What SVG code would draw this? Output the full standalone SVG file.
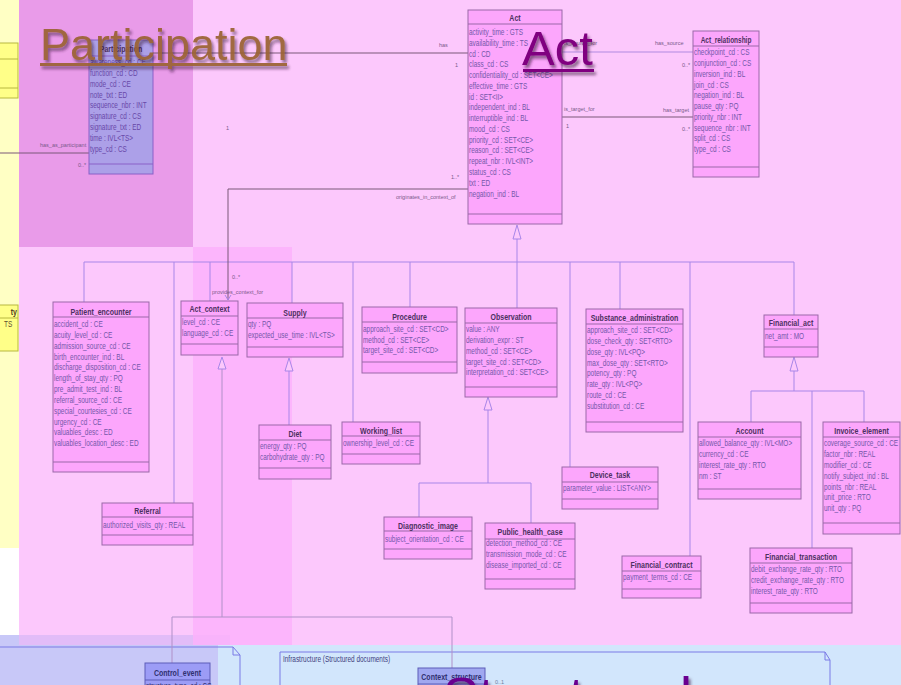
<svg xmlns="http://www.w3.org/2000/svg" width="901" height="685" viewBox="0 0 901 685">
<defs>
<style>
.box{fill:#fca6fc;stroke:#9a68a8;stroke-width:1}
.sep{stroke:#9a68a8;stroke-width:1}
.hd{font-family:"Liberation Sans",Arial,sans-serif;font-size:9px;font-weight:bold;fill:#4c3060;text-anchor:middle}
.at{font-family:"Liberation Sans",Arial,sans-serif;font-size:8.5px;fill:#7458aa}
.lb{font-family:"Liberation Sans",Arial,sans-serif;font-size:5.5px;fill:#7a5a8a}
.gen{stroke:#a886e8;stroke-width:1;fill:none}
.asc{stroke:#7a5878;stroke-width:1;fill:none}
.tri{fill:#fcc8fc;stroke:#a886e8;stroke-width:1}
.ybox{fill:#ffff88;stroke:#b8b840;stroke-width:1}
.bbox{fill:#9c9cf6;stroke:#5c5cb8;stroke-width:1}
.bhd{font-family:"Liberation Sans",Arial,sans-serif;font-size:9px;font-weight:bold;fill:#303070;text-anchor:middle}
.pkg{fill:none;stroke:#7a7ae6;stroke-width:1}
</style>
<filter id="shadow" x="-10%" y="-20%" width="130%" height="160%">
<feDropShadow dx="2" dy="3" stdDeviation="1.5" flood-color="#301830" flood-opacity="0.6"/>
</filter>
</defs>

<!-- background areas -->
<rect x="0" y="0" width="901" height="685" fill="#ffffff"/>
<rect x="0" y="0" width="19" height="548" fill="#ffffc4"/>
<rect x="19" y="0" width="882" height="645" fill="#fcc8fc"/>
<rect x="19" y="0" width="174" height="247" fill="#e99be9"/>
<rect x="0" y="635" width="230" height="50" fill="#c8c8f8"/>
<rect x="19" y="635" width="211" height="10" fill="#e2bcf8"/>
<rect x="218" y="645" width="683" height="40" fill="#d2e6fc"/>
<rect x="193" y="247" width="99" height="398" fill="#fcb2fc" opacity="0.85"/>

<!-- package outlines -->
<path class="pkg" d="M0 647 H233 L240 655 V685 M233 647 V655 H240"/>
<path class="pkg" d="M280 685 V652 H825 L830 660 V685 M825 652 V660 H830"/>
<text class="at" transform="translate(283 662) scale(.76 1)" style="fill:#404080">Infrastructure (Structured documents)</text>

<!-- yellow side classes -->
<g id="side-class-1">
<rect class="ybox" x="-5" y="43" width="23" height="55"/>
<line class="sep" x1="-5" y1="59" x2="18" y2="59" style="stroke:#b8b840"/>
<line class="sep" x1="-5" y1="88" x2="18" y2="88" style="stroke:#b8b840"/>
</g>
<g id="side-class-2">
<rect class="ybox" x="-5" y="305" width="23" height="46"/>
<line class="sep" x1="-5" y1="318" x2="18" y2="318" style="stroke:#b8b840"/>
<text class="hd" transform="translate(17 315) scale(.78 1)" style="text-anchor:end;fill:#504020">ty</text>
<text class="at" transform="translate(4 327) scale(.76 1)" style="fill:#605030">TS</text>
</g>

<!-- connectors -->
<g id="connectors">
<!-- generalization tree under Act -->
<polyline class="gen" points="517,239 517,308"/>
<polyline class="gen" points="84,262 794,262"/>
<line class="gen" x1="84" y1="262" x2="84" y2="302"/>
<line class="gen" x1="174" y1="262" x2="174" y2="503"/>
<line class="gen" x1="210" y1="262" x2="210" y2="301"/>
<line class="gen" x1="292" y1="262" x2="292" y2="303"/>
<line class="gen" x1="353" y1="262" x2="353" y2="422"/>
<line class="gen" x1="410" y1="262" x2="410" y2="307"/>
<line class="gen" x1="570" y1="262" x2="570" y2="467"/>
<line class="gen" x1="620" y1="262" x2="620" y2="309"/>
<line class="gen" x1="690" y1="262" x2="690" y2="556"/>
<line class="gen" x1="794" y1="262" x2="794" y2="315"/>
<polygon class="tri" points="517,225 513,239 521,239"/>

<!-- Act_context specializations -->
<polygon class="tri" points="222,357 218,369 226,369"/>
<polyline class="gen" points="222,369 222,617" style="stroke:#b090c8"/>
<polyline class="gen" points="172,663 172,617 452,617 452,668" style="stroke:#b090c8"/>

<!-- Supply specialization -->
<polygon class="tri" points="289,358 285,371 293,371"/>
<line class="gen" x1="289" y1="371" x2="289" y2="425"/>

<!-- Observation specializations -->
<polygon class="tri" points="488,397 484,410 492,410"/>
<polyline class="gen" points="488,410 488,483"/>
<polyline class="gen" points="419,517 419,483 531,483 531,523"/>

<!-- Financial_act specializations -->
<polygon class="tri" points="794,357 790,371 798,371"/>
<polyline class="gen" points="794,371 794,391"/>
<polyline class="gen" points="751,422 751,391 864,391 864,422"/>
<line class="gen" x1="812" y1="391" x2="812" y2="548"/>

<!-- associations -->
<line class="asc" x1="153" y1="53" x2="468" y2="53"/>
<text class="lb" x="439" y="47">has</text>
<text class="lb" x="455" y="67">1</text>
<text class="lb" x="226" y="130">1</text>

<line class="asc" x1="0" y1="153" x2="89" y2="153"/>
<text class="lb" x="40" y="147">has_as_participant</text>
<text class="lb" x="78" y="167">0..*</text>

<line class="asc" x1="562" y1="52" x2="693" y2="52" style="stroke:#b08ae0"/>
<text class="lb" x="564" y="45">is_source_for</text>
<text class="lb" x="655" y="45">has_source</text>
<text class="lb" x="682" y="67">0..*</text>

<line class="asc" x1="562" y1="117" x2="693" y2="117"/>
<text class="lb" x="564" y="111">is_target_for</text>
<text class="lb" x="566" y="128">1</text>
<text class="lb" x="663" y="112">has_target</text>
<text class="lb" x="682" y="131">0..*</text>

<polyline class="asc" points="468,189 228,189 228,300"/>
<polyline class="asc" points="225,295 228,300 231,295" style="stroke:#a886e8"/>
<text class="lb" x="451" y="179">1..*</text>
<text class="lb" x="396" y="199">originates_in_context_of</text>
<text class="lb" x="232" y="279">0..*</text>
<text class="lb" x="212" y="294">provides_context_for</text>

<text class="lb" x="495" y="684" style="fill:#7080a0">0..1</text>
</g>

<!-- classes -->
<g id="participation">
<rect class="box" x="89" y="40" width="64" height="134" style="fill:#aca0e8;stroke:#8a60c8"/>
<line class="sep" x1="89" y1="56" x2="153" y2="56" style="stroke:#8a60c8"/>
<line class="sep" x1="89" y1="164" x2="153" y2="164" style="stroke:#8a60c8"/>
<text class="hd" transform="translate(121 51.5) scale(.78 1)">Participation</text>
<g transform="translate(90 0) scale(.76 1)"><text class="at" y="65" style="fill:#6848a8"><tspan x="0">awareness_cd : CE</tspan><tspan x="0" dy="10.85">function_cd : CD</tspan><tspan x="0" dy="10.85">mode_cd : CE</tspan><tspan x="0" dy="10.85">note_txt : ED</tspan><tspan x="0" dy="10.85">sequence_nbr : INT</tspan><tspan x="0" dy="10.85">signature_cd : CS</tspan><tspan x="0" dy="10.85">signature_txt : ED</tspan><tspan x="0" dy="10.85">time : IVL&lt;TS&gt;</tspan><tspan x="0" dy="10.85">type_cd : CS</tspan></text></g>
</g>

<g id="act">
<rect class="box" x="468" y="10" width="94" height="214"/>
<line class="sep" x1="468" y1="24" x2="562" y2="24"/>
<line class="sep" x1="468" y1="214" x2="562" y2="214"/>
<text class="hd" transform="translate(515 21) scale(.78 1)">Act</text>
<g transform="translate(469 0) scale(.76 1)"><text class="at" y="35"><tspan x="0">activity_time : GTS</tspan><tspan x="0" dy="10.77">availability_time : TS</tspan><tspan x="0" dy="10.77">cd : CD</tspan><tspan x="0" dy="10.77">class_cd : CS</tspan><tspan x="0" dy="10.77">confidentiality_cd : SET&lt;CE&gt;</tspan><tspan x="0" dy="10.77">effective_time : GTS</tspan><tspan x="0" dy="10.77">id : SET&lt;II&gt;</tspan><tspan x="0" dy="10.77">independent_ind : BL</tspan><tspan x="0" dy="10.77">interruptible_ind : BL</tspan><tspan x="0" dy="10.77">mood_cd : CS</tspan><tspan x="0" dy="10.77">priority_cd : SET&lt;CE&gt;</tspan><tspan x="0" dy="10.77">reason_cd : SET&lt;CE&gt;</tspan><tspan x="0" dy="10.77">repeat_nbr : IVL&lt;INT&gt;</tspan><tspan x="0" dy="10.77">status_cd : CS</tspan><tspan x="0" dy="10.77">txt : ED</tspan><tspan x="0" dy="10.77">negation_ind : BL</tspan></text></g>
</g>

<g id="act-relationship">
<rect class="box" x="693" y="31" width="66" height="146"/>
<line class="sep" x1="693" y1="46" x2="759" y2="46"/>
<line class="sep" x1="693" y1="167" x2="759" y2="167"/>
<text class="hd" transform="translate(726 42.5) scale(.72 1)">Act_relationship</text>
<g transform="translate(694 0) scale(.76 1)"><text class="at" y="55.5"><tspan x="0">checkpoint_cd : CS</tspan><tspan x="0" dy="10.75">conjunction_cd : CS</tspan><tspan x="0" dy="10.75">inversion_ind : BL</tspan><tspan x="0" dy="10.75">join_cd : CS</tspan><tspan x="0" dy="10.75">negation_ind : BL</tspan><tspan x="0" dy="10.75">pause_qty : PQ</tspan><tspan x="0" dy="10.75">priority_nbr : INT</tspan><tspan x="0" dy="10.75">sequence_nbr : INT</tspan><tspan x="0" dy="10.75">split_cd : CS</tspan><tspan x="0" dy="10.75">type_cd : CS</tspan></text></g>
</g>

<g id="patient-encounter">
<rect class="box" x="53" y="302" width="96" height="170"/>
<line class="sep" x1="53" y1="317" x2="149" y2="317"/>
<line class="sep" x1="53" y1="462" x2="149" y2="462"/>
<text class="hd" transform="translate(101 314.5) scale(.78 1)">Patient_encounter</text>
<g transform="translate(54 0) scale(.76 1)"><text class="at" y="327"><tspan x="0">accident_cd : CE</tspan><tspan x="0" dy="10.85">acuity_level_cd : CE</tspan><tspan x="0" dy="10.85">admission_source_cd : CE</tspan><tspan x="0" dy="10.85">birth_encounter_ind : BL</tspan><tspan x="0" dy="10.85">discharge_disposition_cd : CE</tspan><tspan x="0" dy="10.85">length_of_stay_qty : PQ</tspan><tspan x="0" dy="10.85">pre_admit_test_ind : BL</tspan><tspan x="0" dy="10.85">referral_source_cd : CE</tspan><tspan x="0" dy="10.85">special_courtesies_cd : CE</tspan><tspan x="0" dy="10.85">urgency_cd : CE</tspan><tspan x="0" dy="10.85">valuables_desc : ED</tspan><tspan x="0" dy="10.85">valuables_location_desc : ED</tspan></text></g>
</g>

<g id="act-context">
<rect class="box" x="181" y="301" width="57" height="54"/>
<line class="sep" x1="181" y1="316" x2="238" y2="316"/>
<line class="sep" x1="181" y1="344" x2="238" y2="344"/>
<text class="hd" transform="translate(209.5 312) scale(.78 1)">Act_context</text>
<g transform="translate(182 0) scale(.76 1)"><text class="at" y="325.5"><tspan x="0">level_cd : CE</tspan><tspan x="0" dy="11">language_cd : CE</tspan></text></g>
</g>

<g id="supply">
<rect class="box" x="247" y="303" width="96" height="54"/>
<line class="sep" x1="247" y1="318" x2="343" y2="318"/>
<line class="sep" x1="247" y1="347" x2="343" y2="347"/>
<text class="hd" transform="translate(295 316) scale(.78 1)">Supply</text>
<g transform="translate(248 0) scale(.76 1)"><text class="at" y="327"><tspan x="0">qty : PQ</tspan><tspan x="0" dy="11">expected_use_time : IVL&lt;TS&gt;</tspan></text></g>
</g>

<g id="procedure">
<rect class="box" x="362" y="307" width="95" height="66"/>
<line class="sep" x1="362" y1="322" x2="457" y2="322"/>
<line class="sep" x1="362" y1="362" x2="457" y2="362"/>
<text class="hd" transform="translate(409.5 319.5) scale(.78 1)">Procedure</text>
<g transform="translate(363 0) scale(.76 1)"><text class="at" y="332"><tspan x="0">approach_site_cd : SET&lt;CD&gt;</tspan><tspan x="0" dy="10.6">method_cd : SET&lt;CE&gt;</tspan><tspan x="0" dy="10.6">target_site_cd : SET&lt;CD&gt;</tspan></text></g>
</g>

<g id="observation">
<rect class="box" x="465" y="308" width="92" height="89"/>
<line class="sep" x1="465" y1="323" x2="557" y2="323"/>
<line class="sep" x1="465" y1="387" x2="557" y2="387"/>
<text class="hd" transform="translate(511 320) scale(.78 1)">Observation</text>
<g transform="translate(466 0) scale(.76 1)"><text class="at" y="332"><tspan x="0">value : ANY</tspan><tspan x="0" dy="10.85">derivation_expr : ST</tspan><tspan x="0" dy="10.85">method_cd : SET&lt;CE&gt;</tspan><tspan x="0" dy="10.85">target_site_cd : SET&lt;CD&gt;</tspan><tspan x="0" dy="10.85">interpretation_cd : SET&lt;CE&gt;</tspan></text></g>
</g>

<g id="substance-administration">
<rect class="box" x="586" y="309" width="97" height="123"/>
<line class="sep" x1="586" y1="324" x2="683" y2="324"/>
<line class="sep" x1="586" y1="422" x2="683" y2="422"/>
<text class="hd" transform="translate(634.5 321) scale(.78 1)">Substance_administration</text>
<g transform="translate(587 0) scale(.76 1)"><text class="at" y="333"><tspan x="0">approach_site_cd : SET&lt;CD&gt;</tspan><tspan x="0" dy="10.85">dose_check_qty : SET&lt;RTO&gt;</tspan><tspan x="0" dy="10.85">dose_qty : IVL&lt;PQ&gt;</tspan><tspan x="0" dy="10.85">max_dose_qty : SET&lt;RTO&gt;</tspan><tspan x="0" dy="10.85">potency_qty : PQ</tspan><tspan x="0" dy="10.85">rate_qty : IVL&lt;PQ&gt;</tspan><tspan x="0" dy="10.85">route_cd : CE</tspan><tspan x="0" dy="10.85">substitution_cd : CE</tspan></text></g>
</g>

<g id="financial-act">
<rect class="box" x="764" y="315" width="54" height="42"/>
<line class="sep" x1="764" y1="329" x2="818" y2="329"/>
<line class="sep" x1="764" y1="347" x2="818" y2="347"/>
<text class="hd" transform="translate(791 326) scale(.78 1)">Financial_act</text>
<g transform="translate(765 0) scale(.76 1)"><text class="at" y="339"><tspan x="0">net_amt : MO</tspan></text></g>
</g>

<g id="working-list">
<rect class="box" x="342" y="422" width="78" height="42"/>
<line class="sep" x1="342" y1="436" x2="420" y2="436"/>
<line class="sep" x1="342" y1="454" x2="420" y2="454"/>
<text class="hd" transform="translate(381 433.5) scale(.78 1)">Working_list</text>
<g transform="translate(343 0) scale(.76 1)"><text class="at" y="446.5"><tspan x="0">ownership_level_cd : CE</tspan></text></g>
</g>

<g id="diet">
<rect class="box" x="259" y="425" width="72" height="54"/>
<line class="sep" x1="259" y1="440" x2="331" y2="440"/>
<line class="sep" x1="259" y1="468" x2="331" y2="468"/>
<text class="hd" transform="translate(295 437) scale(.78 1)">Diet</text>
<g transform="translate(260 0) scale(.76 1)"><text class="at" y="449"><tspan x="0">energy_qty : PQ</tspan><tspan x="0" dy="11">carbohydrate_qty : PQ</tspan></text></g>
</g>

<g id="referral">
<rect class="box" x="102" y="503" width="91" height="42"/>
<line class="sep" x1="102" y1="517" x2="193" y2="517"/>
<line class="sep" x1="102" y1="535" x2="193" y2="535"/>
<text class="hd" transform="translate(147.5 514) scale(.78 1)">Referral</text>
<g transform="translate(103 0) scale(.76 1)"><text class="at" y="528"><tspan x="0">authorized_visits_qty : REAL</tspan></text></g>
</g>

<g id="device-task">
<rect class="box" x="562" y="467" width="96" height="42"/>
<line class="sep" x1="562" y1="482" x2="658" y2="482"/>
<line class="sep" x1="562" y1="499" x2="658" y2="499"/>
<text class="hd" transform="translate(610 478) scale(.78 1)">Device_task</text>
<g transform="translate(563 0) scale(.76 1)"><text class="at" y="491.5"><tspan x="0">parameter_value : LIST&lt;ANY&gt;</tspan></text></g>
</g>

<g id="diagnostic-image">
<rect class="box" x="384" y="517" width="88" height="42"/>
<line class="sep" x1="384" y1="531" x2="472" y2="531"/>
<line class="sep" x1="384" y1="549" x2="472" y2="549"/>
<text class="hd" transform="translate(428 528.5) scale(.78 1)">Diagnostic_image</text>
<g transform="translate(385 0) scale(.76 1)"><text class="at" y="542"><tspan x="0">subject_orientation_cd : CE</tspan></text></g>
</g>

<g id="public-health-case">
<rect class="box" x="485" y="523" width="90" height="66"/>
<line class="sep" x1="485" y1="539" x2="575" y2="539"/>
<line class="sep" x1="485" y1="579" x2="575" y2="579"/>
<text class="hd" transform="translate(530 535) scale(.78 1)">Public_health_case</text>
<g transform="translate(486 0) scale(.76 1)"><text class="at" y="546.5"><tspan x="0">detection_method_cd : CE</tspan><tspan x="0" dy="10.75">transmission_mode_cd : CE</tspan><tspan x="0" dy="10.75">disease_imported_cd : CE</tspan></text></g>
</g>

<g id="financial-contract">
<rect class="box" x="622" y="556" width="79" height="42"/>
<line class="sep" x1="622" y1="571" x2="701" y2="571"/>
<line class="sep" x1="622" y1="589" x2="701" y2="589"/>
<text class="hd" transform="translate(661.5 568) scale(.78 1)">Financial_contract</text>
<g transform="translate(623 0) scale(.76 1)"><text class="at" y="580.5"><tspan x="0">payment_terms_cd : CE</tspan></text></g>
</g>

<g id="account">
<rect class="box" x="698" y="422" width="103" height="77"/>
<line class="sep" x1="698" y1="437" x2="801" y2="437"/>
<line class="sep" x1="698" y1="489" x2="801" y2="489"/>
<text class="hd" transform="translate(749.5 434) scale(.78 1)">Account</text>
<g transform="translate(699 0) scale(.76 1)"><text class="at" y="446.5"><tspan x="0">allowed_balance_qty : IVL&lt;MO&gt;</tspan><tspan x="0" dy="10.8">currency_cd : CE</tspan><tspan x="0" dy="10.8">interest_rate_qty : RTO</tspan><tspan x="0" dy="10.8">nm : ST</tspan></text></g>
</g>

<g id="invoice-element">
<rect class="box" x="823" y="422" width="77" height="112"/>
<line class="sep" x1="823" y1="437" x2="900" y2="437"/>
<line class="sep" x1="823" y1="523" x2="900" y2="523"/>
<text class="hd" transform="translate(861.5 434) scale(.78 1)">Invoice_element</text>
<g transform="translate(824 0) scale(.76 1)"><text class="at" y="446.5"><tspan x="0">coverage_source_cd : CE</tspan><tspan x="0" dy="10.8">factor_nbr : REAL</tspan><tspan x="0" dy="10.8">modifier_cd : CE</tspan><tspan x="0" dy="10.8">notify_subject_ind : BL</tspan><tspan x="0" dy="10.8">points_nbr : REAL</tspan><tspan x="0" dy="10.8">unit_price : RTO</tspan><tspan x="0" dy="10.8">unit_qty : PQ</tspan></text></g>
</g>

<g id="financial-transaction">
<rect class="box" x="750" y="548" width="102" height="65"/>
<line class="sep" x1="750" y1="563" x2="852" y2="563"/>
<line class="sep" x1="750" y1="603" x2="852" y2="603"/>
<text class="hd" transform="translate(801 560) scale(.78 1)">Financial_transaction</text>
<g transform="translate(751 0) scale(.76 1)"><text class="at" y="572.5"><tspan x="0">debit_exchange_rate_qty : RTO</tspan><tspan x="0" dy="10.75">credit_exchange_rate_qty : RTO</tspan><tspan x="0" dy="10.75">interest_rate_qty : RTO</tspan></text></g>
</g>

<g id="control-event">
<rect class="bbox" x="145" y="663" width="65" height="30"/>
<line class="sep" x1="145" y1="680" x2="210" y2="680" style="stroke:#5c5cb8"/>
<text class="bhd" transform="translate(177.5 676) scale(.78 1)">Control_event</text>
<g transform="translate(146 0) scale(.76 1)"><text class="at" y="689" style="fill:#303070"><tspan x="0">structure_type_cd : CS</tspan></text></g>
</g>

<g id="context-structure">
<rect class="bbox" x="418" y="668" width="67" height="25" style="fill:#a0a8f0"/>
<line class="sep" x1="418" y1="684" x2="485" y2="684" style="stroke:#5c5cb8"/>
<text class="bhd" transform="translate(451.5 680) scale(.78 1)">Context_structure</text>
</g>

<!-- section titles -->
<g id="title-participation" filter="url(#shadow)" opacity="0.92">
<text x="40" y="60" font-family="'Liberation Sans',Arial,sans-serif" font-size="45" fill="#9a6232">Participation</text>
<rect x="40" y="63" width="247" height="3" fill="#9a6232"/>
</g>
<g id="title-act" filter="url(#shadow)">
<text x="522" y="65" font-family="'Liberation Sans',Arial,sans-serif" font-size="49" fill="#800080">Act</text>
<rect x="523" y="69" width="71" height="3" fill="#800080"/>
</g>
<g id="title-structured" filter="url(#shadow)">
<text x="443" y="715" font-family="'Liberation Sans',Arial,sans-serif" font-size="54" fill="#6a0090">Structured</text>
</g>
</svg>
